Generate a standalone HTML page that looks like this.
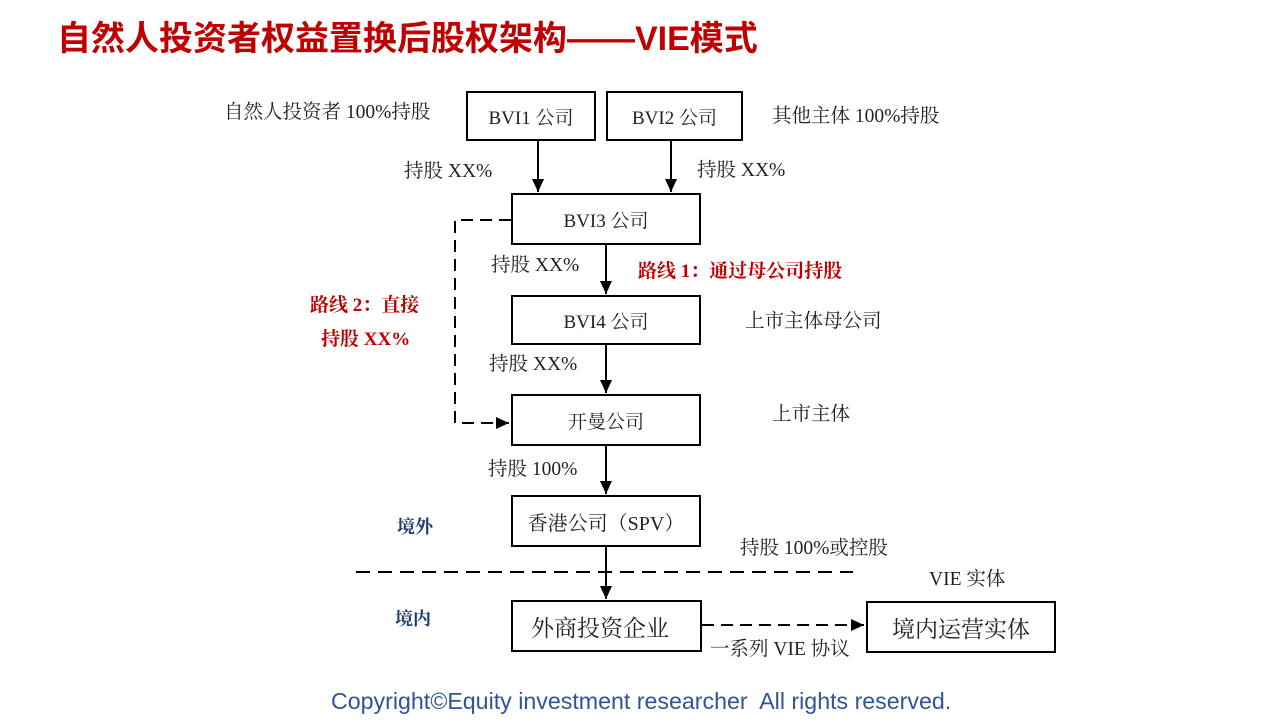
<!DOCTYPE html>
<html><head><meta charset="utf-8"><style>
body{margin:0;width:1280px;height:720px;background:#fff;position:relative;overflow:hidden;font-family:"Liberation Serif","Noto Serif CJK SC",serif;color:#222}
.t{position:absolute;white-space:nowrap;font-size:19.5px;line-height:20px}
.b{position:absolute;border:2px solid #000;box-sizing:border-box;display:flex;align-items:center;justify-content:center;font-size:19px;background:#fff}
.r{color:#c00000;font-weight:bold}
.bl{color:#1f3e6e;font-weight:bold}
</style></head><body>
<div class="t" style="left:57px;top:19px;font-family:'Liberation Sans','Noto Sans CJK SC',sans-serif;font-weight:bold;font-size:34px;line-height:40px;color:#c00000">自然人投资者权益置换后股权架构——VIE模式</div>
<svg style="position:absolute;left:0;top:0" width="1280" height="720">
<defs><marker id="a" markerWidth="14" markerHeight="14" refX="13" refY="6" orient="auto" markerUnits="userSpaceOnUse"><path d="M0,0 L13,6 L0,12z" fill="#000"/></marker></defs>
<g stroke="#000" stroke-width="2" fill="none">
<line x1="538" y1="141" x2="538" y2="192" marker-end="url(#a)"/>
<line x1="671" y1="141" x2="671" y2="192" marker-end="url(#a)"/>
<line x1="606" y1="245" x2="606" y2="294" marker-end="url(#a)"/>
<line x1="606" y1="345" x2="606" y2="393" marker-end="url(#a)"/>
<line x1="606" y1="446" x2="606" y2="494" marker-end="url(#a)"/>
<line x1="606" y1="547" x2="606" y2="599" marker-end="url(#a)"/>
<polyline points="511,220 455,220 455,423 509,423" stroke-dasharray="12,7" marker-end="url(#a)"/>
<line x1="356" y1="572" x2="853" y2="572" stroke-dasharray="14,8"/>
<line x1="702" y1="625" x2="864" y2="625" stroke-dasharray="12,7" marker-end="url(#a)"/>
</g></svg>
<div class="b" style="left:466px;top:91px;width:130px;height:50px">BVI1 公司</div>
<div class="b" style="left:606px;top:91px;width:137px;height:50px">BVI2 公司</div>
<div class="b" style="left:511px;top:193px;width:190px;height:52px">BVI3 公司</div>
<div class="b" style="left:511px;top:295px;width:190px;height:50px">BVI4 公司</div>
<div class="b" style="left:511px;top:394px;width:190px;height:52px">开曼公司</div>
<div class="b" style="left:511px;top:495px;width:190px;height:52px;font-size:20px">香港公司（SPV）</div>
<div class="b" style="left:511px;top:600px;width:191px;height:52px;font-size:23px;justify-content:flex-start;padding-left:18px">外商投资企业</div>
<div class="b" style="left:866px;top:601px;width:190px;height:52px;font-size:23px">境内运营实体</div>
<div class="t" style="left:224px;top:103px">自然人投资者 100%持股</div>
<div class="t" style="left:772px;top:107px">其他主体 100%持股</div>
<div class="t" style="left:404px;top:162px">持股 XX%</div>
<div class="t" style="left:697px;top:161px">持股 XX%</div>
<div class="t" style="left:491px;top:256px">持股 XX%</div>
<div class="t r" style="left:638px;top:262px;font-size:19px">路线 1：通过母公司持股</div>
<div class="t r" style="left:310px;top:296px;font-size:19px">路线 2：直接</div>
<div class="t r" style="left:321px;top:330px;font-size:19px">持股 XX%</div>
<div class="t" style="left:745px;top:312px">上市主体母公司</div>
<div class="t" style="left:489px;top:355px">持股 XX%</div>
<div class="t" style="left:772px;top:405px">上市主体</div>
<div class="t" style="left:488px;top:460px">持股 100%</div>
<div class="t bl" style="left:397px;top:517px;font-size:18px">境外</div>
<div class="t" style="left:740px;top:539px">持股 100%或控股</div>
<div class="t" style="left:929px;top:570px">VIE 实体</div>
<div class="t bl" style="left:395px;top:609px;font-size:18px">境内</div>
<div class="t" style="left:710px;top:640px">一系列 VIE 协议</div>
<div class="t" style="left:331px;top:688px;font-family:'Liberation Sans','DejaVu Sans',sans-serif;font-size:23.2px;line-height:26px;color:#2f5597">Copyright©Equity investment researcher&nbsp; All rights reserved.</div>
</body></html>
